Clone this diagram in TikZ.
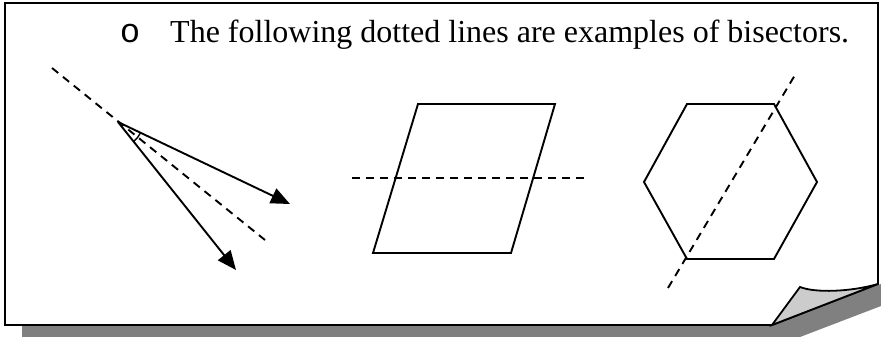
\documentclass[tikz,border=0pt]{standalone}
\usepackage{fontspec}
\setmainfont{Liberation Serif}
\newfontfamily\bulletfont{Liberation Mono}
\usetikzlibrary{arrows.meta}
\definecolor{shadowgray}{HTML}{808080}
\definecolor{foldgray}{HTML}{CCCCCC}
\begin{document}
\begin{tikzpicture}[x=1pt,y=-1pt,
  shape line/.style={line width=1.9pt, line join=miter},
  bisector/.style={line width=1.9pt, dash pattern=on 8pt off 6pt},
  vecarrow/.style={line width=1.9pt, -{Triangle[length=19pt,width=16pt]}},
  pageline/.style={line width=1.8pt, line join=miter},
  label/.style={font=\fontsize{32}{38}\selectfont, inner sep=0pt}]
\useasboundingbox (0,0) rectangle (881,337);
% shadow
\fill[shadowgray] (22,325) -- (22,337) -- (800,337) -- (881,306) -- (881,284) -- (772,325) -- cycle;
% page
\coordinate (tl) at (5,3);
\coordinate (tr) at (878,3);
\coordinate (ce) at (878,284);
\coordinate (fb) at (772,325);
\coordinate (ft) at (800,287);
\coordinate (bl) at (5,325);
\filldraw[pageline, fill=white] (tl) -- (tr) -- (ce) -- (fb) -- (bl) -- cycle;
\filldraw[pageline, fill=foldgray] (fb) -- (ft) .. controls (815,293) and (850,292) .. (ce) -- cycle;
% title
\node[font=\bulletfont\fontsize{34}{38}\selectfont, inner sep=0pt, anchor=base] (bul) at (130,43) {o};
\node[label, anchor=base west] (title) at (170,43) {The following dotted lines are examples of bisectors.};
% angle figure
\coordinate (v) at (118,122);
\coordinate (a1) at (290,204);
\coordinate (a2) at (236,270);
\coordinate (d1) at (52,68);
\coordinate (d2) at (265,240);
\draw[bisector] (d1) -- (d2);
\draw[vecarrow] (v) -- (a1);
\draw[vecarrow] (v) -- (a2);
\draw[line width=1.4pt] (v) ++(25.6:25) arc[start angle=25.6, end angle=51.5, radius=25];
% parallelogram
\coordinate (p1) at (418,104);
\coordinate (p2) at (555,104);
\coordinate (p3) at (511,253);
\coordinate (p4) at (373,253);
\draw[shape line] (p1) -- (p2) -- (p3) -- (p4) -- cycle;
\coordinate (pd1) at (352,178);
\coordinate (pd2) at (585,178);
\draw[bisector] (pd1) -- (pd2);
% hexagon
\coordinate (h1) at (687,104);
\coordinate (h2) at (774,104);
\coordinate (h3) at (817,182);
\coordinate (h4) at (774,259);
\coordinate (h5) at (687,259);
\coordinate (h6) at (644,182);
\draw[shape line] (h1) -- (h2) -- (h3) -- (h4) -- (h5) -- (h6) -- cycle;
\coordinate (hd1) at (668,288);
\coordinate (hd2) at (795,75);
\draw[bisector] (hd1) -- (hd2);
\end{tikzpicture}
\end{document}
